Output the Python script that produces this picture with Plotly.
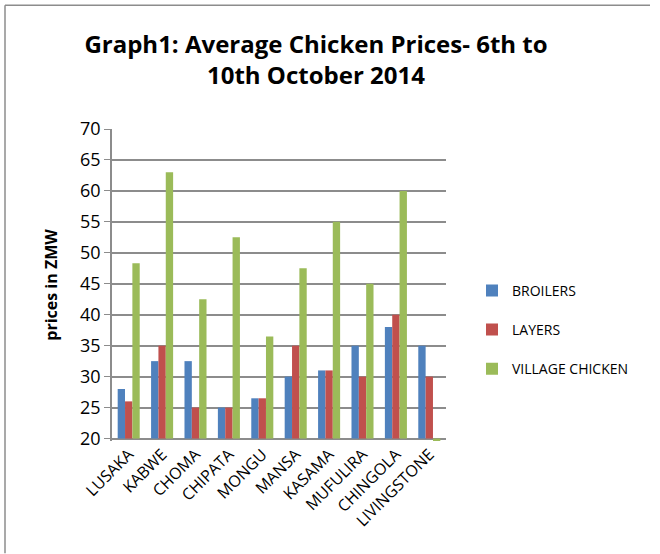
import plotly.graph_objects as go

categories = ["LUSAKA", "KABWE", "CHOMA", "CHIPATA", "MONGU", "MANSA",
              "KASAMA", "MUFULIRA", "CHINGOLA", "LIVINGSTONE"]
broilers = [28, 32.5, 32.5, 25, 26.5, 30, 31, 35, 38, 35]
layers = [26, 35, 25, 25, 26.5, 35, 31, 30, 40, 30]
village = [48.3, 63, 42.5, 52.5, 36.5, 47.5, 55, 45, 60, 19.5]
y_ticks = [20, 25, 30, 35, 40, 45, 50, 55, 60, 65, 70]

AXIS_MIN = 20
FONT = "Open Sans"

series = [("BROILERS", broilers, "#4F81BD"),
          ("LAYERS", layers, "#C0504D"),
          ("VILLAGE CHICKEN", village, "#9BBB59")]

fig = go.Figure()
for name, vals, col in series:
    fig.add_trace(go.Bar(
        x=categories, y=[v - AXIS_MIN for v in vals], base=AXIS_MIN,
        name=name, legendgroup=name, marker=dict(color=col, line=dict(width=0)),
        customdata=vals, hovertemplate="%{x}: %{customdata}<extra>" + name + "</extra>",
    ))

L, R, T = 112, 446, 129
y20 = 439
ppu = 6.2
ymin = 19.6
B = 554 - (y20 + (AXIS_MIN - ymin) * ppu)

def px(x):
    return (x - L) / (R - L)

def py(y):
    return (y20 + (AXIS_MIN - ymin) * ppu - y) / ((70 - ymin) * ppu)

fig.update_layout(
    width=660, height=554,
    margin=dict(l=L, r=660 - R, t=T, b=B),
    paper_bgcolor="white", plot_bgcolor="white",
    barmode="group", bargap=0.34, bargroupgap=0,
    font=dict(family=FONT, color="black"),
    title=dict(text="<b>Graph1: Average Chicken Prices- 6th to<br>10th October 2014</b>",
               x=316 / 660, xanchor="center", y=1 - 53 / 554, yanchor="top",
               font=dict(size=24, family=FONT)),
    showlegend=True,
    legend=dict(x=px(472), xanchor="left", y=py(275), yanchor="top",
                traceorder="grouped", tracegroupgap=18,
                font=dict(size=14, family=FONT), itemwidth=30,
                bgcolor="rgba(0,0,0,0)"),
    xaxis=dict(tickangle=-45, tickfont=dict(size=16, family=FONT),
               showline=False, showgrid=False, ticks="", fixedrange=True),
    yaxis=dict(range=[ymin, 70], tickvals=y_ticks, ticktext=[str(t) for t in y_ticks],
               tickfont=dict(size=18, family=FONT),
               showgrid=True, gridcolor="#8C8C8C", gridwidth=1.5,
               showline=True, linecolor="#8C8C8C", linewidth=1.5,
               ticks="outside", ticklen=6, tickcolor="#8C8C8C",
               zeroline=False,
               title=dict(text="<b>prices in ZMW</b>", font=dict(size=16, family=FONT), standoff=18)),
    shapes=[
        dict(type="line", xref="paper", yref="paper", x0=px(5), x1=px(650), y0=py(5), y1=py(5),
             line=dict(color="#8C8C8C", width=1.5)),
        dict(type="line", xref="paper", yref="paper", x0=px(5), x1=px(5), y0=py(5), y1=py(554),
             line=dict(color="#8C8C8C", width=1.5)),
    ],
)

fig.write_html("out.html", config={"displayModeBar": False},
               post_script="document.body.style.margin='0';")
